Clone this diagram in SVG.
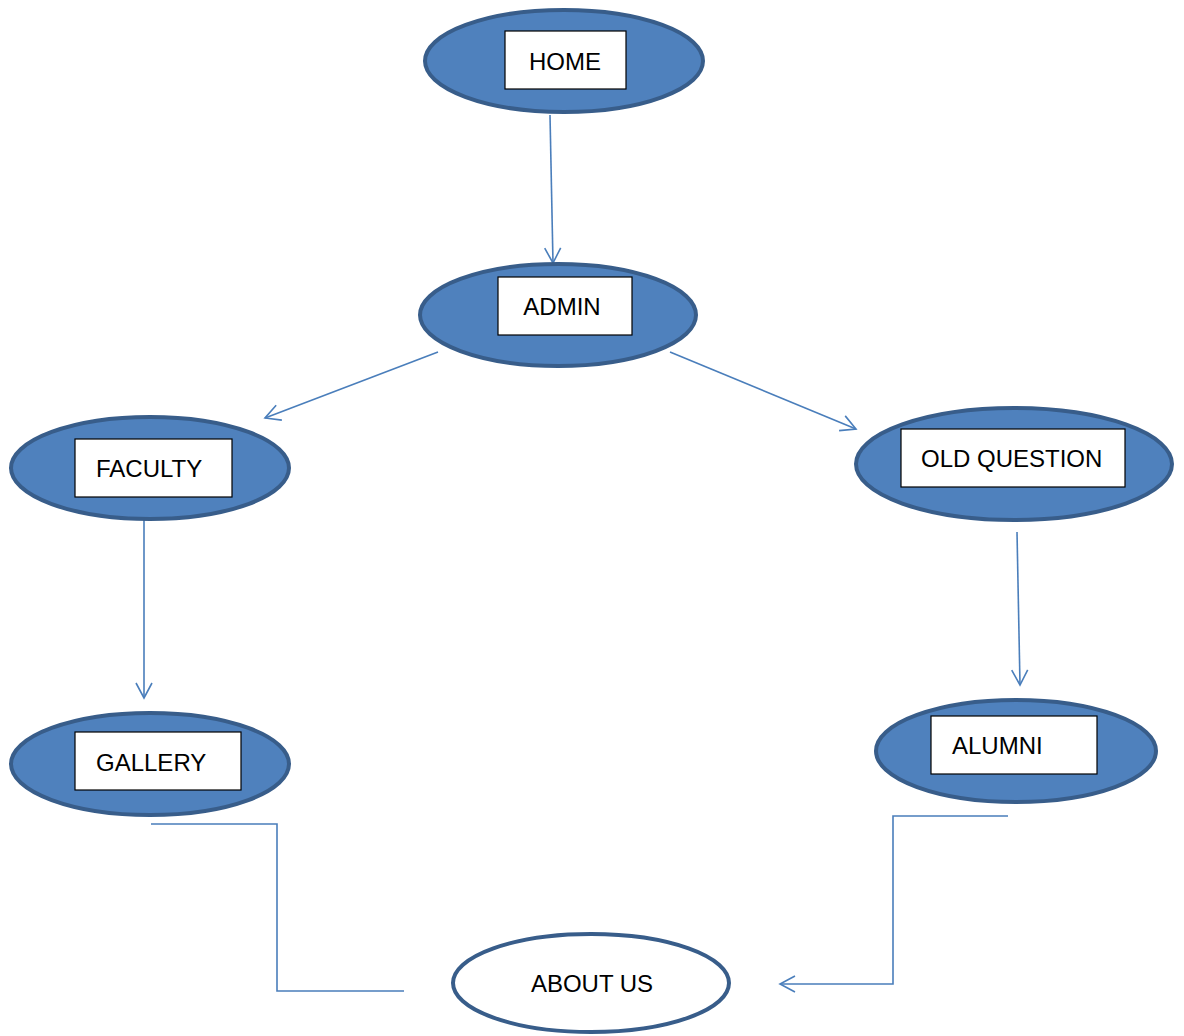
<svg xmlns="http://www.w3.org/2000/svg" width="1184" height="1036" viewBox="0 0 1184 1036">
<style>
.node{fill:#4F81BD;stroke:#385D8A;stroke-width:4}
.plain{fill:#FFFFFF;stroke:#385D8A;stroke-width:4}
.box{fill:#FFFFFF;stroke:#000000;stroke-width:1.2}
.lbl{font-family:"Liberation Sans",Arial,sans-serif;font-size:24px;fill:#000000}
.conn{fill:none;stroke:#4A7EBB;stroke-width:1.6}
</style>
<defs>
<marker id="open" viewBox="0 0 18 18" refX="16" refY="9" markerWidth="18" markerHeight="18" markerUnits="userSpaceOnUse" orient="auto">
<path d="M1,1 L16,9 L1,17" fill="none" stroke="#4A7EBB" stroke-width="1.6"/>
</marker>
</defs>
<rect width="1184" height="1036" fill="#FFFFFF"/>
<g id="connectors">
<line class="conn" x1="550" y1="115" x2="553" y2="263" marker-end="url(#open)"/>
<line class="conn" x1="438" y1="352" x2="265" y2="418" marker-end="url(#open)"/>
<line class="conn" x1="670" y1="352" x2="856" y2="429" marker-end="url(#open)"/>
<line class="conn" x1="144" y1="520" x2="144" y2="698" marker-end="url(#open)"/>
<line class="conn" x1="1017" y1="532" x2="1020" y2="685" marker-end="url(#open)"/>
<polyline class="conn" points="151,824 277,824 277,991 404,991"/>
<polyline class="conn" points="1008,816 893,816 893,984 780,984" marker-end="url(#open)"/>
</g>
<g id="home">
<ellipse class="node" cx="564" cy="61" rx="139" ry="51"/>
<rect class="box" x="505" y="31" width="121" height="58"/>
<text class="lbl" x="565" y="70" text-anchor="middle">HOME</text>
</g>
<g id="admin">
<ellipse class="node" cx="558" cy="315" rx="138" ry="51"/>
<rect class="box" x="498" y="277" width="134" height="58"/>
<text class="lbl" x="562" y="315" text-anchor="middle">ADMIN</text>
</g>
<g id="faculty">
<ellipse class="node" cx="150" cy="468" rx="139" ry="51"/>
<rect class="box" x="75" y="439" width="157" height="58"/>
<text class="lbl" x="96" y="477">FACULTY</text>
</g>
<g id="old-question">
<ellipse class="node" cx="1014" cy="464" rx="158" ry="56"/>
<rect class="box" x="901" y="429" width="224" height="58"/>
<text class="lbl" x="921" y="467">OLD QUESTION</text>
</g>
<g id="gallery">
<ellipse class="node" cx="150" cy="764" rx="139" ry="51"/>
<rect class="box" x="75" y="732" width="166" height="58"/>
<text class="lbl" x="96" y="771">GALLERY</text>
</g>
<g id="alumni">
<ellipse class="node" cx="1016" cy="751" rx="140" ry="51"/>
<rect class="box" x="931" y="716" width="166" height="58"/>
<text class="lbl" x="952" y="754">ALUMNI</text>
</g>
<g id="about-us">
<ellipse class="plain" cx="591" cy="983" rx="138" ry="49"/>
<text class="lbl" x="592" y="992" text-anchor="middle">ABOUT US</text>
</g>
</svg>
